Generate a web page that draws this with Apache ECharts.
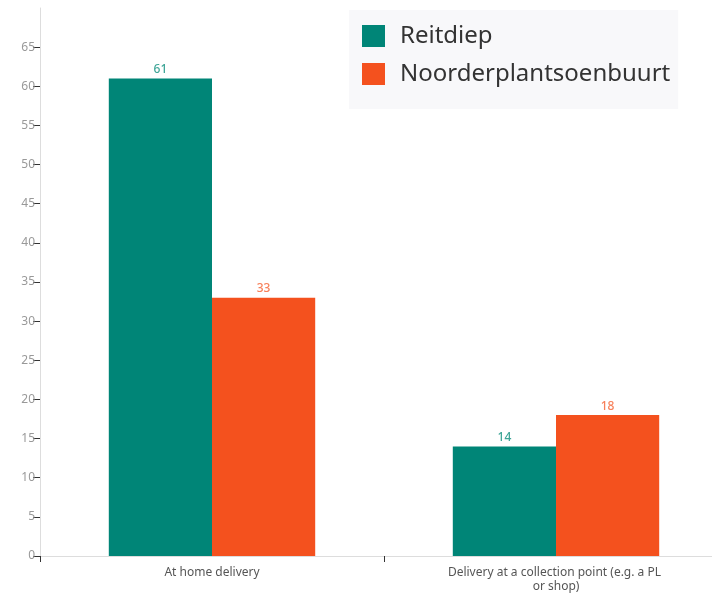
<!DOCTYPE html>
<html>
<head>
<meta charset="utf-8">
<script src="https://cdn.jsdelivr.net/npm/echarts@6/dist/echarts.min.js"></script>
<style>
  html, body { margin: 0; padding: 0; background: #fff; overflow: hidden; }
  #chart { width: 728px; height: 598px; }
</style>
</head>
<body>
<div id="chart"></div>
<script>
var categories = ['At home delivery', 'Delivery at a collection point (e.g. a PL or shop)'];
var reitdiep = [61, 14];
var noorder = [33, 18];
var yTicks = [0, 5, 10, 15, 20, 25, 30, 35, 40, 45, 50, 55, 60, 65];

var chart = echarts.init(document.getElementById('chart'));
var option = {
    animation: false,
    textStyle: { fontFamily: 'Noto Sans' },
    legend: {
        orient: 'vertical',
        left: 349,
        top: 10,
        backgroundColor: '#f8f8fa',
        padding: [14, 8, 23, 13],
        icon: 'rect',
        itemWidth: 23,
        itemHeight: 22,
        itemGap: 14,
        textStyle: { fontSize: 24, color: '#333', fontFamily: 'Noto Sans', padding: [2, 0, 0, 10] },
        data: ['Reitdiep', 'Noorderplantsoenbuurt']
    },
    grid: { left: 40, right: 0, top: 8, bottom: 42, containLabel: false },
    xAxis: {
        type: 'category',
        data: categories,
        axisLine: { lineStyle: { color: '#dddddd' } },
        axisTick: { show: true, length: 6, lineStyle: { color: '#333' } },
        axisLabel: {
            color: '#555',
            fontSize: 12,
            margin: 10,
            width: 228,
            overflow: 'break',
            lineHeight: 14
        }
    },
    yAxis: {
        type: 'value',
        min: 0,
        max: 70,
        interval: 5,
        splitLine: { show: false },
        axisLine: { show: true, lineStyle: { color: '#dddddd' } },
        axisTick: { show: true, length: 7, customValues: yTicks, lineStyle: { color: '#333' } },
        axisLabel: { color: '#999', fontSize: 12, margin: 5, customValues: yTicks }
    },
    series: [
        {
            name: 'Reitdiep',
            type: 'bar',
            data: reitdiep,
            barGap: 0,
            barCategoryGap: '40%',
            itemStyle: { color: '#008577' },
            label: { show: true, position: 'top', color: '#3ea597', fontSize: 12, fontWeight: 500, distance: 3 }
        },
        {
            name: 'Noorderplantsoenbuurt',
            type: 'bar',
            data: noorder,
            barGap: 0,
            barCategoryGap: '40%',
            itemStyle: { color: '#f4511e' },
            label: { show: true, position: 'top', color: '#f7805a', fontSize: 12, fontWeight: 500, distance: 3 }
        }
    ]
};
chart.setOption(option);
</script>
</body>
</html>
